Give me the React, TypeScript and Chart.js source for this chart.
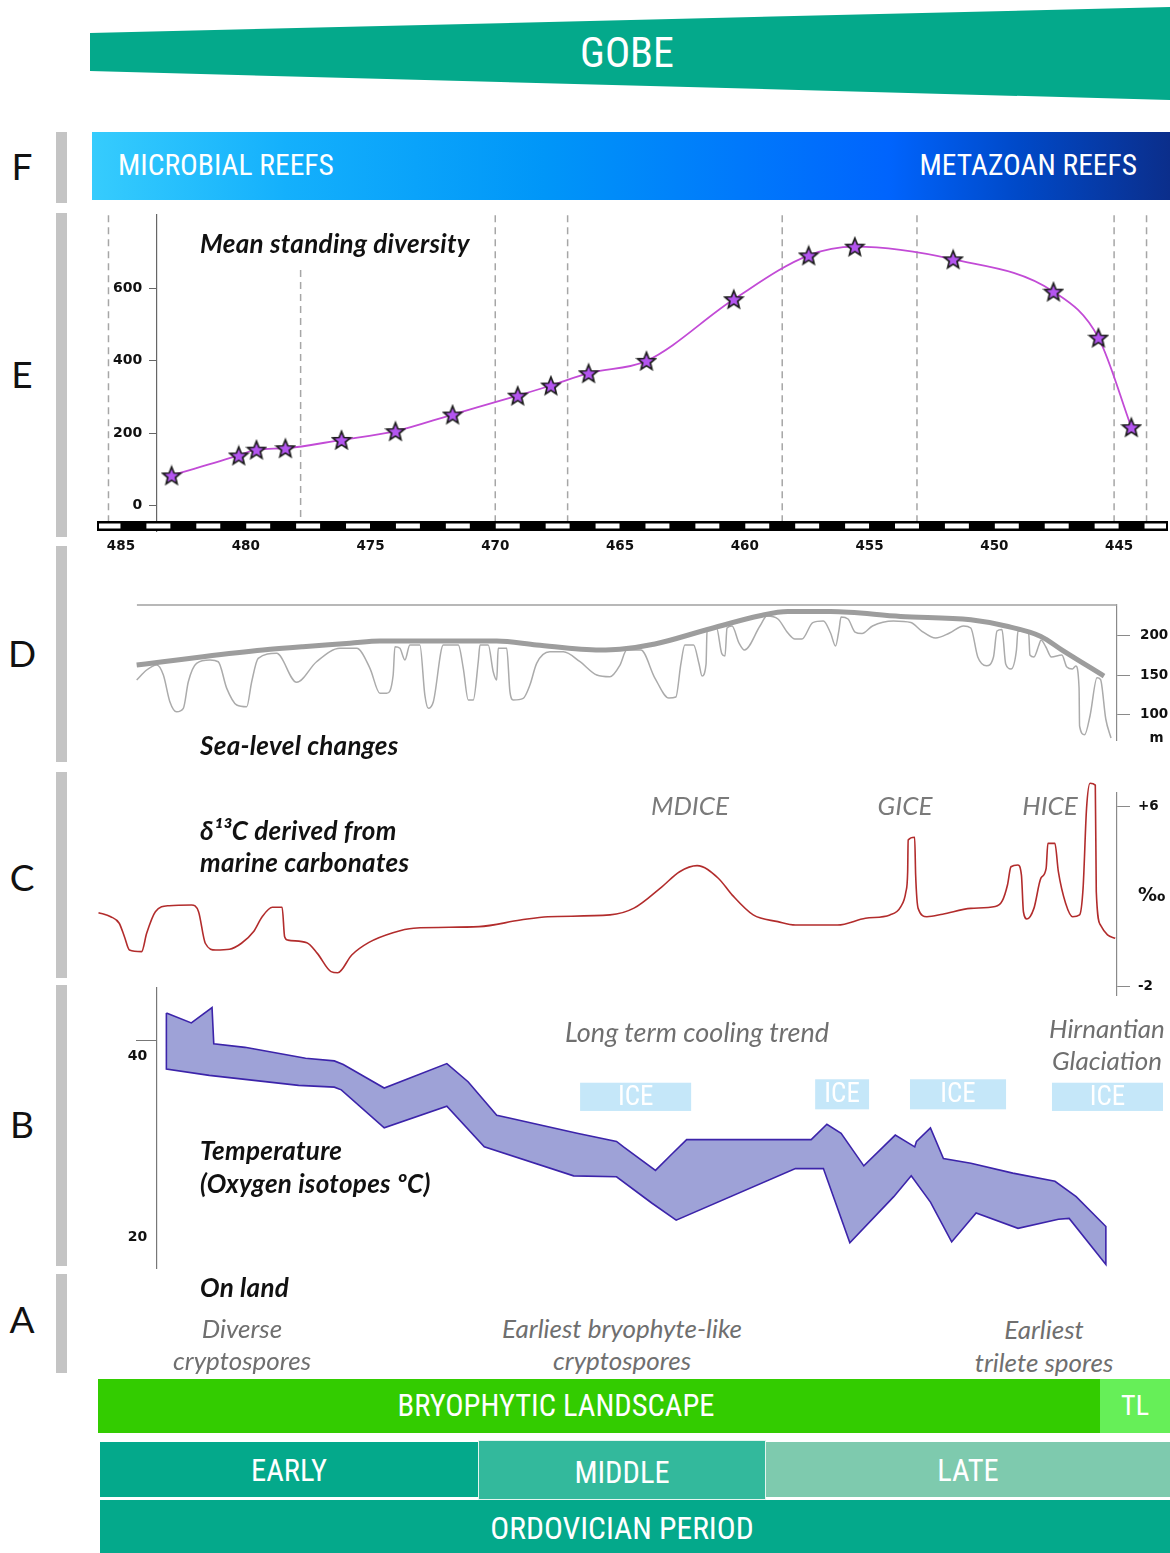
import { useEffect, useRef } from "react";
import { Chart, registerables } from "chart.js";

Chart.register(...registerables);

// ---- time axis (Ma), shared by all panels ----
const rulerStartAge = 485.96;
const rulerEndAge = 443.04;
const rightAxisAge = 445.08; // age under the right hand axes of C and D
const leftAxisAge = 483.56; // age under the left hand axes of B and E
const ageTicks = [485, 480, 475, 470, 465, 460, 455, 450, 445];

// ---- E: mean standing diversity ----
const stageBoundaries = [485.5, 477.8, 470.0, 467.1, 458.5, 453.1, 445.2, 443.9];
const stageLineTop = [801, 650, 801, 801, 801, 801, 801, 801];
const stageLineBottom = -43;
const diversityAge = [482.97, 480.28, 479.57, 478.41, 476.16, 474.0, 471.71, 469.1, 467.77, 466.26, 463.94, 460.44, 457.44, 455.59, 451.65, 447.63, 445.83, 444.51];
const diversityValue = [83, 138, 154, 158, 181, 205, 251, 303, 331, 365, 399, 569, 690, 714, 679, 590, 463, 216];
const diversityTicks = [0, 200, 400, 600];

// ---- D: sea level (m) ----
const seaLongAge = [484.37, 483.32, 481.71, 479.31, 477.71, 475.82, 474.62, 469.94, 468.34, 465.8, 465.0, 463.6, 461.49, 459.39, 458.27, 456.56, 453.75, 450.94, 449.54, 448.13, 447.28, 445.6];
const seaLongLevel = [162.8, 167, 173.5, 182, 186.3, 190.6, 193.6, 193.6, 188.5, 182, 183, 189.7, 208.3, 226, 231.3, 231.3, 225, 220.8, 212.8, 199.5, 182, 148.7];
const seaShortAge = [484.37, 483.97, 483.57, 483.3, 483.04, 482.77, 482.5, 482.3, 481.97, 481.43, 481.1, 480.76, 480.36, 479.96, 479.76, 479.5, 478.76, 477.96, 477.16, 476.22, 475.55, 475.02, 474.62, 474.35, 474.09, 474.02, 473.82, 473.62, 473.42, 473.02, 472.82, 472.68, 472.48, 472.08, 471.48, 471.28, 471.08, 470.88, 470.68, 470.61, 470.28, 470.08, 469.94, 469.88, 469.54, 469.41, 469.28, 468.88, 468.61, 468.34, 467.81, 467.27, 466.6, 465.93, 465.4, 465.0, 464.73, 464.16, 463.6, 463.04, 462.76, 462.56, 462.4, 462.05, 461.83, 461.71, 461.55, 461.51, 461.13, 460.92, 460.79, 460.71, 460.51, 460.23, 460.01, 459.39, 459.11, 458.67, 458.27, 457.99, 457.71, 457.27, 456.85, 456.56, 456.36, 456.22, 456.14, 455.86, 455.58, 455.3, 454.88, 454.04, 453.34, 452.91, 452.35, 451.79, 451.23, 450.94, 450.66, 450.31, 450.03, 449.89, 449.69, 449.54, 449.33, 449.11, 449.05, 448.62, 448.57, 448.41, 448.21, 448.13, 447.93, 447.71, 447.29, 447.09, 446.87, 446.73, 446.6, 446.58, 446.38, 446.16, 445.88, 445.74, 445.53, 445.32];
const seaShortLevel = [143.6, 156.4, 162.8, 150, 115.8, 102.9, 107.3, 141.4, 165, 169.2, 167, 132.9, 111.5, 109.3, 141.4, 171.4, 177.8, 140.6, 167, 184.2, 184.2, 158.6, 126.5, 126.5, 150, 186.3, 184.2, 169.2, 188.4, 188.4, 124.3, 107.3, 115.8, 188.4, 188.4, 158.6, 118, 118, 167, 188.4, 188.4, 154.2, 143.6, 184.2, 184.2, 128.6, 118, 120.1, 137.2, 165, 179.8, 179.8, 167, 150, 147.8, 162.8, 182, 182, 146.1, 120.5, 121.8, 164.1, 188.4, 188.4, 164.1, 148.7, 164.1, 206.4, 210.2, 177.4, 174.3, 210.2, 212.8, 191, 182, 212.8, 225.6, 221.8, 203.8, 196.1, 196.1, 217.2, 219.2, 203.8, 187.2, 208.3, 224.3, 221.8, 205.1, 203.1, 212.8, 219.2, 217.2, 206.4, 197.4, 203.8, 212.8, 210.2, 173.1, 161.9, 173.1, 206.4, 208.3, 164.1, 157.7, 182, 206.4, 203.8, 175.6, 173.1, 188.4, 194.9, 185.9, 173.1, 175.6, 160.2, 157.7, 161.5, 133.3, 84.6, 73.4, 97.8, 146.4, 144.2, 93.6, 69.2];
const seaCeiling = 239.7;
const seaCeilingFrom = 484.36;
const seaTicks = [200, 150, 100];
const seaUnitLevel = 69;

// ---- C: d13C (per mil) ----
const carbonAge = [485.9, 485.41, 485.07, 484.86, 484.66, 484.17, 483.97, 483.62, 483.07, 482.17, 481.89, 481.62, 481.2, 480.65, 480.17, 479.69, 479.34, 478.93, 478.54, 478.44, 478.31, 477.55, 477.13, 476.58, 476.31, 475.75, 475.06, 474.1, 473.27, 470.65, 468.99, 467.89, 465.4, 464.44, 463.32, 462.61, 461.91, 461.06, 460.5, 459.66, 458.67, 457.97, 456.28, 455.16, 454.18, 453.75, 453.54, 453.47, 453.45, 453.19, 453.15, 453.05, 452.7, 452.07, 450.94, 449.96, 449.68, 449.47, 449.33, 449.05, 448.91, 448.83, 448.69, 448.41, 448.13, 447.92, 447.85, 447.57, 447.43, 447.14, 446.86, 446.58, 446.44, 446.3, 446.16, 445.95, 445.91, 445.74, 445.46, 445.15];
const carbonValue = [1.26, 1.08, 0.79, 0.19, -0.4, -0.47, 0.34, 1.3, 1.57, 1.6, 1.3, -0.1, -0.4, -0.37, -0.1, 0.41, 1.08, 1.5, 1.5, 0.19, 0.04, -0.08, -0.55, -1.36, -1.41, -0.62, -0.06, 0.37, 0.57, 0.64, 0.93, 1.08, 1.16, 1.46, 2.41, 3.08, 3.35, 2.79, 2.04, 1.16, 0.86, 0.71, 0.71, 1.01, 1.16, 1.52, 2.19, 3.08, 4.49, 4.61, 2.93, 1.45, 1.08, 1.19, 1.45, 1.53, 1.78, 2.49, 3.3, 3.38, 2.93, 1.3, 0.98, 1.45, 2.79, 3.23, 4.34, 4.34, 3.08, 1.68, 1.08, 1.16, 2.34, 5.9, 7.01, 6.93, 2.19, 0.71, 0.27, 0.12];
const carbonTicks = [6, 2, -2];

// ---- B: temperature band (deg C) ----
const tempUpperAge = [483.18, 482.18, 481.35, 481.28, 480.03, 477.6, 476.45, 476.09, 474.45, 471.94, 471.09, 469.94, 469.44, 466.72, 465.14, 464.86, 463.58, 462.89, 462.33, 457.34, 456.71, 456.14, 455.23, 453.97, 453.19, 453.12, 452.56, 452.04, 450.94, 449.26, 447.57, 446.72, 445.53];
const tempUpperValue = [43.1, 42.0, 43.7, 39.7, 39.3, 38.1, 37.8, 37.4, 34.8, 37.5, 35.5, 31.8, 31.5, 29.8, 28.9, 28.3, 25.7, 27.6, 29.1, 29.1, 30.8, 29.8, 26.2, 29.6, 28.3, 28.9, 30.4, 27.0, 26.5, 25.4, 24.5, 22.8, 19.5];
const tempLowerAge = [483.18, 481.46, 477.88, 476.45, 476.17, 474.45, 471.94, 470.44, 466.86, 465.14, 463.73, 462.75, 457.97, 456.85, 455.79, 454.03, 453.33, 452.56, 451.71, 450.73, 449.05, 447.43, 447.0, 445.53];
const tempLowerValue = [36.9, 36.2, 35.1, 34.9, 34.6, 30.4, 32.8, 28.3, 25.1, 25.0, 22.1, 20.2, 25.9, 25.9, 17.7, 22.8, 25.1, 22.2, 17.8, 21.0, 19.3, 20.3, 20.4, 15.3];
const tempTicks = [40, 20];
const iceFrom = [466.6, 457.18, 453.38, 447.69];
const iceTo = [462.15, 455.02, 449.53, 443.24];
const iceTop = [35.39, 35.77, 35.77, 35.39];
const iceBottom = [32.27, 32.45, 32.45, 32.27];

const narrow = '"Liberation Sans Narrow", "Roboto Condensed", "DejaVu Sans Condensed", "Noto Sans", sans-serif';
const tickFont = { family: '"DejaVu Sans", sans-serif', size: 13.5, weight: 'bold' as const };

const pts = (xs: number[], ys: number[]) => xs.map((x, i) => ({ x, y: ys[i] }));
const fixedTicks = (values: number[]) => (scale: any) => {
  scale.ticks = values.map((value) => ({ value }));
};
// keep the plot areas exactly where the layout padding puts them
const noPadding = (scale: any) => {
  scale.paddingTop = 0;
  scale.paddingBottom = 0;
  scale.paddingLeft = 0;
  scale.paddingRight = 0;
};

function makeStar(): HTMLCanvasElement {
  const c = document.createElement("canvas");
  c.width = 22;
  c.height = 22;
  const g = c.getContext("2d")!;
  g.beginPath();
  for (let i = 0; i < 10; i++) {
    const r = i % 2 === 0 ? 9.3 : 4.1;
    const a = -Math.PI / 2 + (i * Math.PI) / 5;
    g.lineTo(11 + r * Math.cos(a), 11.8 + r * Math.sin(a));
  }
  g.closePath();
  g.fillStyle = "#b455f0";
  g.fill();
  g.lineWidth = 1.7;
  g.strokeStyle = "#1c1c1c";
  g.stroke();
  return c;
}

const rulerPlugin = {
  id: "ruler",
  afterDatasetsDraw(chart: any) {
    const { ctx, chartArea, scales } = chart;
    const x = scales.x;
    const top = chartArea.bottom - 10;
    const left = x.getPixelForValue(rulerStartAge);
    const right = x.getPixelForValue(rulerEndAge);
    ctx.save();
    ctx.fillStyle = "#000";
    ctx.fillRect(left, top, right - left, 10);
    ctx.fillStyle = "#fff";
    for (let k = Math.floor(rulerEndAge); k < rulerStartAge; k++) {
      if (k % 2 === 0) continue;
      const a = x.getPixelForValue(Math.min(k + 1, rulerStartAge));
      const b = x.getPixelForValue(Math.max(k, rulerEndAge));
      const padL = k + 1 >= rulerStartAge ? 2 : 0.5;
      const padR = k <= rulerEndAge ? 2 : 0.5;
      ctx.fillRect(a + padL, top + 2.5, b - a - padL - padR, 5);
    }
    ctx.restore();
  },
};

const icePlugin = {
  id: "iceBoxes",
  beforeDatasetsDraw(chart: any) {
    const { ctx, scales } = chart;
    ctx.save();
    iceFrom.forEach((from, i) => {
      const l = scales.x.getPixelForValue(from);
      const r = scales.x.getPixelForValue(iceTo[i]);
      const t = scales.y.getPixelForValue(iceTop[i]);
      const b = scales.y.getPixelForValue(iceBottom[i]);
      ctx.fillStyle = "#c5e7f9";
      ctx.fillRect(l, t, r - l, b - t);
      ctx.fillStyle = "#ffffff";
      ctx.font = `27px ${narrow}`;
      ctx.textAlign = "center";
      ctx.textBaseline = "middle";
      ctx.fillText("ICE", (l + r) / 2, (t + b) / 2 + 1);
    });
    ctx.restore();
  },
};

const baseOptions = (padding: any) => ({
  animation: false as const,
  responsive: false,
  layout: { padding, autoPadding: false },
  plugins: { legend: { display: false }, tooltip: { enabled: false } },
});

const hiddenAge = (min: number) => ({
  type: "linear" as const,
  reverse: true,
  min,
  max: rulerStartAge,
  display: false,
});

function diversityConfig(): any {
  const star = makeStar();
  const stageSets = stageBoundaries.map((age, i) => ({
    data: [{ x: age, y: stageLineTop[i] }, { x: age, y: stageLineBottom }],
    borderColor: "#a6a6a6",
    borderWidth: 1.5,
    borderDash: [7, 5],
    pointRadius: 0,
  }));
  return {
    type: "line",
    data: {
      datasets: [
        {
          data: pts(diversityAge, diversityValue),
          borderColor: "#c24bd6",
          borderWidth: 1.8,
          pointStyle: star,
          pointRadius: 9,
          cubicInterpolationMode: "monotone",
          clip: 12,
        },
        ...stageSets,
      ],
    },
    options: {
      ...baseOptions({ top: 10, left: 97, right: 2, bottom: 0 }),
      scales: {
        x: {
          type: "linear",
          reverse: true,
          min: rulerEndAge,
          max: rulerStartAge,
          grid: { display: false, drawTicks: false },
          border: { display: false },
          afterBuildTicks: fixedTicks(ageTicks),
          afterFit: (s: any) => {
            noPadding(s);
            s.height = 29;
          },
          ticks: { padding: 7, color: "#111", font: tickFont, callback: (v: any) => String(v) },
        },
        y: {
          type: "linear",
          min: -70.34,
          max: 801.38,
          position: { x: leftAxisAge },
          afterBuildTicks: fixedTicks(diversityTicks),
          afterFit: noPadding,
          grid: { drawOnChartArea: false, tickLength: 7, color: "#666" },
          border: { color: "#666", width: 1.2 },
          ticks: { color: "#111", font: { ...tickFont, size: 14 }, callback: (v: any) => `${v}   ` },
        },
      },
    },
    plugins: [rulerPlugin],
  };
}

function seaLevelConfig(): any {
  return {
    type: "line",
    data: {
      datasets: [
        {
          data: pts(seaLongAge, seaLongLevel),
          borderColor: "#9d9d9d",
          borderWidth: 5,
          pointRadius: 0,
          cubicInterpolationMode: "monotone",
          clip: 6,
        },
        {
          data: pts(seaShortAge, seaShortLevel),
          borderColor: "#ababab",
          borderWidth: 1.5,
          pointRadius: 0,
          cubicInterpolationMode: "monotone",
          clip: 6,
        },
        {
          data: [{ x: seaCeilingFrom, y: seaCeiling }, { x: rightAxisAge, y: seaCeiling }],
          borderColor: "#a0a0a0",
          borderWidth: 1.4,
          pointRadius: 0,
          clip: 6,
        },
      ],
    },
    options: {
      ...baseOptions({ top: 10, left: 97, right: 0, bottom: 10 }),
      scales: {
        x: hiddenAge(rightAxisAge),
        y: {
          type: "linear",
          position: "right",
          min: 66.67,
          max: 239.74,
          afterFit: (s: any) => {
            noPadding(s);
            s.width = 53;
          },
          afterBuildTicks: fixedTicks([...seaTicks, seaUnitLevel]),
          grid: {
            drawOnChartArea: false,
            tickLength: 13,
            color: "#8a8a8a",
            tickColor: (c: any) => (c.tick && c.tick.value === seaUnitLevel ? "rgba(0,0,0,0)" : "#8a8a8a"),
          },
          border: { color: "#8a8a8a", width: 1.2 },
          ticks: {
            padding: 10,
            color: "#111",
            font: tickFont,
            callback: (v: any) => (v === seaUnitLevel ? "  m" : String(v)),
          },
        },
      },
    },
  };
}

function carbonConfig(): any {
  return {
    type: "line",
    data: {
      datasets: [
        {
          data: pts(carbonAge, carbonValue),
          borderColor: "#b22c2c",
          borderWidth: 1.6,
          pointRadius: 0,
          cubicInterpolationMode: "monotone",
          clip: 15,
        },
      ],
    },
    options: {
      ...baseOptions({ top: 18, left: 97, right: 0, bottom: 10 }),
      scales: {
        x: hiddenAge(rightAxisAge),
        y: {
          type: "linear",
          position: "right",
          min: -2.4,
          max: 6.578,
          afterFit: (s: any) => {
            noPadding(s);
            s.width = 53;
          },
          afterBuildTicks: fixedTicks(carbonTicks),
          grid: {
            drawOnChartArea: false,
            tickLength: 13,
            color: "#8a8a8a",
            tickColor: (c: any) => (c.tick && c.tick.value === 2 ? "rgba(0,0,0,0)" : "#8a8a8a"),
          },
          border: { color: "#8a8a8a", width: 1.2 },
          ticks: {
            padding: 8,
            color: "#111",
            font: (c: any) => (c.tick && c.tick.value === 2 ? { ...tickFont, size: 19 } : tickFont),
            callback: (v: any) => (v === 2 ? "‰" : v > 0 ? `+${v}` : String(v)),
          },
        },
      },
    },
  };
}

function temperatureConfig(): any {
  const upper = pts(tempUpperAge, tempUpperValue);
  const lower = pts(tempLowerAge, tempLowerValue).reverse();
  return {
    type: "line",
    data: {
      datasets: [
        {
          data: [...upper, ...lower, upper[0]],
          borderColor: "#3c24aa",
          backgroundColor: "#9ea2d7",
          borderWidth: 1.6,
          pointRadius: 0,
          fill: "shape",
          clip: 6,
        },
      ],
    },
    options: {
      ...baseOptions({ top: 13, left: 97, right: 2, bottom: 12 }),
      scales: {
        x: hiddenAge(rulerEndAge),
        y: {
          type: "linear",
          min: 14.917,
          max: 45.856,
          position: { x: leftAxisAge },
          afterBuildTicks: fixedTicks(tempTicks),
          afterFit: noPadding,
          grid: {
            drawOnChartArea: false,
            tickLength: 20,
            color: "#777",
            tickColor: (c: any) => (c.tick && c.tick.value === 40 ? "#777" : "rgba(0,0,0,0)"),
          },
          border: { color: "#777", width: 1.2 },
          ticks: { color: "#111", font: { ...tickFont, size: 14 }, labelOffset: 15, callback: (v: any) => `${v}  ` },
        },
      },
    },
    plugins: [icePlugin],
  };
}

function Panel({ top, height, config }: { top: number; height: number; config: () => any }) {
  const canvasRef = useRef<HTMLCanvasElement>(null);
  useEffect(() => {
    if (!canvasRef.current) return;
    const chart = new Chart(canvasRef.current, config());
    return () => chart.destroy();
  }, [config]);
  return (
    <canvas
      ref={canvasRef}
      width={1170}
      height={height}
      style={{ position: "absolute", left: 0, top, width: 1170, height }}
    />
  );
}

function Label({ x, y, align = "left", style, children }: any) {
  const tx = align === "center" ? "-50%" : align === "right" ? "-100%" : "0";
  return (
    <div
      style={{
        position: "absolute",
        left: x,
        top: y,
        transform: `translate(${tx}, -50%)`,
        whiteSpace: "nowrap",
        lineHeight: 1,
        ...style,
      }}
    >
      {children}
    </div>
  );
}

const titleStyle = { fontFamily: 'Lato, "Open Sans", sans-serif', fontWeight: 700, fontStyle: "italic", fontSize: 26, letterSpacing: 0.3, color: "#111" };
const noteStyle = { fontFamily: 'Lato, "Open Sans", sans-serif', fontStyle: "italic", fontSize: 26, color: "#6f6f6f" };
const bannerStyle = { fontFamily: narrow, fontSize: 30.5, color: "#fff", fontStretch: "condensed" };
const letterStyle = { fontFamily: 'Lato, "Open Sans", sans-serif', fontSize: 37, color: "#111" };

const sideBars = [
  { letter: "F", top: 132, bottom: 203 },
  { letter: "E", top: 213, bottom: 537 },
  { letter: "D", top: 546, bottom: 762 },
  { letter: "C", top: 772, bottom: 978 },
  { letter: "B", top: 985, bottom: 1266 },
  { letter: "A", top: 1274, bottom: 1373 },
];
const letterY: Record<string, number> = { F: 165, E: 373, D: 652, C: 876, B: 1123, A: 1318 };

function Box({ left, top, width, height, background, style, children }: any) {
  return (
    <div style={{ position: "absolute", left, top, width, height, background, boxSizing: "border-box", ...style }}>
      {children}
    </div>
  );
}

export default function App() {
  return (
    <div style={{ position: "absolute", left: 0, top: 0, width: 1170, height: 1553, background: "#fff", overflow: "hidden", fontFamily: "Lato, sans-serif" }}>
      {/* GOBE wedge */}
      <div
        style={{
          position: "absolute",
          left: 0,
          top: 0,
          width: 1170,
          height: 110,
          background: "#04a98b",
          clipPath: "polygon(90px 33px, 1170px 7px, 1170px 100px, 90px 71px)",
        }}
      />
      <Label x={627} y={53} align="center" style={{ ...bannerStyle, fontSize: 42 }}>GOBE</Label>

      {/* F reefs */}
      <Box
        left={92}
        top={132}
        width={1078}
        height={68}
        background="linear-gradient(90deg, #36ccfd 0%, #14b0fc 18%, #0096f8 42%, #0079fb 60%, #0064fd 74%, #0049c8 86%, #0b2e8b 100%)"
      />
      <Label x={118} y={166} style={{ ...bannerStyle, fontSize: 29.5 }}>MICROBIAL REEFS</Label>
      <Label x={1137} y={166} align="right" style={{ ...bannerStyle, fontSize: 29.5 }}>METAZOAN REEFS</Label>

      {sideBars.map((b) => (
        <div key={b.letter}>
          <Box left={56} top={b.top} width={11} height={b.bottom - b.top} background="#c4c4c4" />
          <Label x={22} y={letterY[b.letter]} align="center" style={letterStyle}>{b.letter}</Label>
        </div>
      ))}

      <Panel top={205} height={355} config={diversityConfig} />
      <Panel top={595} height={155} config={seaLevelConfig} />
      <Panel top={775} height={230} config={carbonConfig} />
      <Panel top={975} height={305} config={temperatureConfig} />

      <Label x={200} y={243} style={titleStyle}>Mean standing diversity</Label>
      <Label x={200} y={745} style={titleStyle}>Sea-level changes</Label>
      <Label x={200} y={830} style={titleStyle}>δ¹³C derived from</Label>
      <Label x={200} y={862} style={titleStyle}>marine carbonates</Label>
      <Label x={690} y={805} align="center" style={{ ...noteStyle, fontSize: 26, color: "#7a7a7a" }}>MDICE</Label>
      <Label x={905} y={805} align="center" style={{ ...noteStyle, fontSize: 26, color: "#7a7a7a" }}>GICE</Label>
      <Label x={1050} y={805} align="center" style={{ ...noteStyle, fontSize: 26, color: "#7a7a7a" }}>HICE</Label>

      <Label x={697} y={1031} align="center" style={{ ...noteStyle, fontSize: 27 }}>Long term cooling trend</Label>
      <Label x={1107} y={1028} align="center" style={noteStyle}>Hirnantian</Label>
      <Label x={1107} y={1060} align="center" style={noteStyle}>Glaciation</Label>
      <Label x={200} y={1150} style={titleStyle}>Temperature</Label>
      <Label x={200} y={1183} style={titleStyle}>(Oxygen isotopes ºC)</Label>

      <Label x={200} y={1287} style={titleStyle}>On land</Label>
      <Label x={242} y={1328} align="center" style={noteStyle}>Diverse</Label>
      <Label x={242} y={1360} align="center" style={noteStyle}>cryptospores</Label>
      <Label x={622} y={1328} align="center" style={noteStyle}>Earliest bryophyte-like</Label>
      <Label x={622} y={1360} align="center" style={noteStyle}>cryptospores</Label>
      <Label x={1044} y={1329} align="center" style={noteStyle}>Earliest</Label>
      <Label x={1044} y={1362} align="center" style={noteStyle}>trilete spores</Label>

      {/* bottom bands */}
      <Box left={98} top={1379} width={1002} height={54} background="#33cc00" />
      <Box left={1100} top={1379} width={70} height={54} background="#66ef58" />
      <Label x={556} y={1406} align="center" style={bannerStyle}>BRYOPHYTIC LANDSCAPE</Label>
      <Label x={1135} y={1406} align="center" style={{ ...bannerStyle, fontSize: 28 }}>TL</Label>

      <Box left={100} top={1442} width={378} height={55} background="#04a98b" />
      <Box left={766} top={1442} width={404} height={55} background="#7ecaae" />
      <Box left={478} top={1440} width={288} height={60} background="#33b99c" style={{ border: "1.5px solid #e4f5ef" }} />
      <Label x={289} y={1471} align="center" style={bannerStyle}>EARLY</Label>
      <Label x={622} y={1473} align="center" style={bannerStyle}>MIDDLE</Label>
      <Label x={968} y={1471} align="center" style={bannerStyle}>LATE</Label>

      <Box left={100} top={1500} width={1070} height={53} background="#04a98b" />
      <Label x={622} y={1529} align="center" style={{ ...bannerStyle, fontSize: 31.5 }}>ORDOVICIAN PERIOD</Label>
    </div>
  );
}
